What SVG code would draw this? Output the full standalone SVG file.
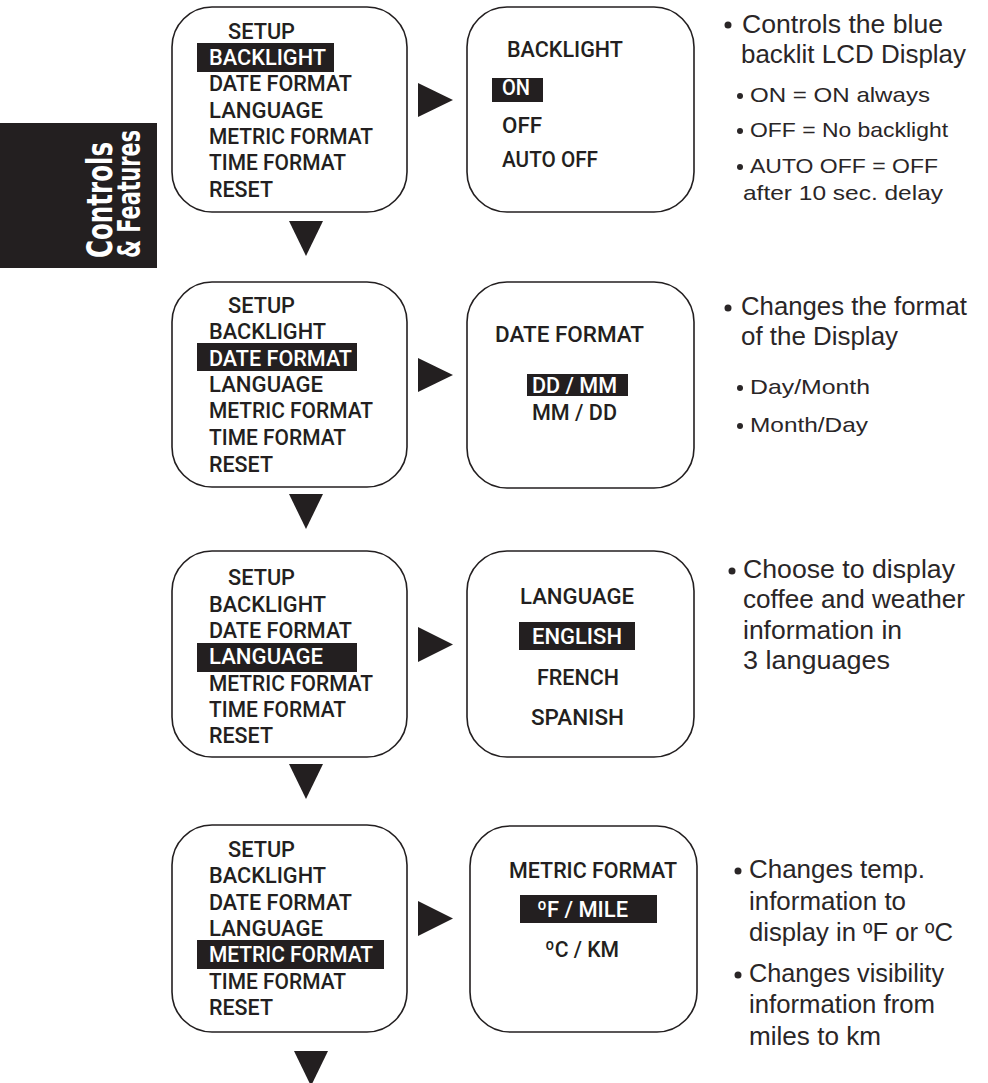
<svg xmlns="http://www.w3.org/2000/svg" width="988" height="1083" viewBox="0 0 988 1083">
<style>
.box{fill:#fff;stroke:#231f20;stroke-width:1.6}
.m{font-family:Roboto,"Liberation Sans",sans-serif;font-weight:500;font-size:22px;fill:#231f20}
.mw{font-family:Roboto,"Liberation Sans",sans-serif;font-weight:500;font-size:22px;fill:#fff}
.hl{fill:#231f20}
.d{font-family:"Liberation Sans",Arial,sans-serif;font-size:25px;fill:#2a2627}
.s{font-family:"Liberation Sans",Arial,sans-serif;font-size:21px;fill:#2a2627}
.dot{fill:#2a2627}
.arr{fill:#231f20}
.tab{font-family:"Liberation Sans Narrow","DejaVu Sans Condensed","Liberation Sans",sans-serif;font-weight:bold;fill:#fff}
</style>
<rect x="0" y="123" width="157" height="145" fill="#231f20"/>
<text class="tab" font-size="36" transform="translate(112,258) rotate(-90)" textLength="116" lengthAdjust="spacingAndGlyphs">Controls</text>
<text class="tab" font-size="32" transform="translate(140,258) rotate(-90)" textLength="128" lengthAdjust="spacingAndGlyphs">&amp; Features</text>

<g id="connectors">
<polygon class="arr" points="418,83 453,100 418,117"/>
<polygon class="arr" points="418,358 453,375 418,392"/>
<polygon class="arr" points="418,627 453,644.5 418,662"/>
<polygon class="arr" points="418,901 453,918.5 418,936"/>
<polygon class="arr" points="289,221 323,221 306,256"/>
<polygon class="arr" points="289,494 323,494 306,529"/>
<polygon class="arr" points="289,764 323,764 306,799"/>
<polygon class="arr" points="294,1051 328,1051 311,1086"/>
</g>

<g id="setup1">
<rect class="box" x="172" y="7" width="235" height="205" rx="40"/>
<rect class="hl" x="197" y="43" width="137" height="29"/>
<text class="m" x="228" y="39" textLength="67" lengthAdjust="spacingAndGlyphs">SETUP</text>
<text class="mw" x="209" y="65" textLength="117" lengthAdjust="spacingAndGlyphs">BACKLIGHT</text>
<text class="m" x="209" y="91" textLength="143" lengthAdjust="spacingAndGlyphs">DATE FORMAT</text>
<text class="m" x="209" y="118" textLength="114" lengthAdjust="spacingAndGlyphs">LANGUAGE</text>
<text class="m" x="209" y="144" textLength="164" lengthAdjust="spacingAndGlyphs">METRIC FORMAT</text>
<text class="m" x="209" y="170" textLength="137" lengthAdjust="spacingAndGlyphs">TIME FORMAT</text>
<text class="m" x="209" y="197" textLength="64" lengthAdjust="spacingAndGlyphs">RESET</text>
</g>

<g id="backlight">
<rect class="box" x="467" y="7" width="227" height="205" rx="40"/>
<text class="m" x="507" y="57" textLength="116" lengthAdjust="spacingAndGlyphs">BACKLIGHT</text>
<rect class="hl" x="492" y="78" width="51" height="24"/>
<text class="mw" x="502" y="95" textLength="28" lengthAdjust="spacingAndGlyphs">ON</text>
<text class="m" x="502" y="133" textLength="40" lengthAdjust="spacingAndGlyphs">OFF</text>
<text class="m" x="502" y="167" textLength="96" lengthAdjust="spacingAndGlyphs">AUTO OFF</text>
</g>

<g id="note1">
<circle class="dot" cx="728" cy="25" r="3.5"/>
<text class="d" x="742" y="33" textLength="201" lengthAdjust="spacingAndGlyphs">Controls the blue</text>
<text class="d" x="741" y="63" textLength="225" lengthAdjust="spacingAndGlyphs">backlit LCD Display</text>
<circle class="dot" cx="740" cy="96" r="3"/>
<text class="s" x="750" y="102" textLength="180" lengthAdjust="spacingAndGlyphs">ON = ON always</text>
<circle class="dot" cx="740" cy="131" r="3"/>
<text class="s" x="750" y="137" textLength="198" lengthAdjust="spacingAndGlyphs">OFF = No backlight</text>
<circle class="dot" cx="740" cy="167" r="3"/>
<text class="s" x="750" y="173" textLength="188" lengthAdjust="spacingAndGlyphs">AUTO OFF = OFF</text>
<text class="s" x="743" y="200" textLength="200" lengthAdjust="spacingAndGlyphs">after 10 sec. delay</text>
</g>

<g id="setup2">
<rect class="box" x="172" y="282" width="235" height="205" rx="40"/>
<rect class="hl" x="197" y="343" width="160" height="28"/>
<text class="m" x="228" y="313" textLength="67" lengthAdjust="spacingAndGlyphs">SETUP</text>
<text class="m" x="209" y="339" textLength="117" lengthAdjust="spacingAndGlyphs">BACKLIGHT</text>
<text class="mw" x="209" y="366" textLength="143" lengthAdjust="spacingAndGlyphs">DATE FORMAT</text>
<text class="m" x="209" y="392" textLength="114" lengthAdjust="spacingAndGlyphs">LANGUAGE</text>
<text class="m" x="209" y="418" textLength="164" lengthAdjust="spacingAndGlyphs">METRIC FORMAT</text>
<text class="m" x="209" y="445" textLength="137" lengthAdjust="spacingAndGlyphs">TIME FORMAT</text>
<text class="m" x="209" y="472" textLength="64" lengthAdjust="spacingAndGlyphs">RESET</text>
</g>

<g id="dateformat">
<rect class="box" x="467" y="282" width="227" height="206" rx="40"/>
<text class="m" x="495" y="342" textLength="149" lengthAdjust="spacingAndGlyphs">DATE FORMAT</text>
<rect class="hl" x="527" y="374" width="101" height="22"/>
<text class="mw" x="532" y="393" textLength="85" lengthAdjust="spacingAndGlyphs">DD / MM</text>
<text class="m" x="532" y="420" textLength="85" lengthAdjust="spacingAndGlyphs">MM / DD</text>
</g>

<g id="note2">
<circle class="dot" cx="728" cy="308" r="3.5"/>
<text class="d" x="741" y="315" textLength="226" lengthAdjust="spacingAndGlyphs">Changes the format</text>
<text class="d" x="741" y="345" textLength="157" lengthAdjust="spacingAndGlyphs">of the Display</text>
<circle class="dot" cx="740" cy="388" r="3"/>
<text class="s" x="750" y="394" textLength="120" lengthAdjust="spacingAndGlyphs">Day/Month</text>
<circle class="dot" cx="740" cy="426" r="3"/>
<text class="s" x="750" y="432" textLength="118" lengthAdjust="spacingAndGlyphs">Month/Day</text>
</g>

<g id="setup3">
<rect class="box" x="172" y="551" width="235" height="206" rx="40"/>
<rect class="hl" x="197" y="643" width="160" height="29"/>
<text class="m" x="228" y="585" textLength="67" lengthAdjust="spacingAndGlyphs">SETUP</text>
<text class="m" x="209" y="612" textLength="117" lengthAdjust="spacingAndGlyphs">BACKLIGHT</text>
<text class="m" x="209" y="638" textLength="143" lengthAdjust="spacingAndGlyphs">DATE FORMAT</text>
<text class="mw" x="209" y="664" textLength="114" lengthAdjust="spacingAndGlyphs">LANGUAGE</text>
<text class="m" x="209" y="691" textLength="164" lengthAdjust="spacingAndGlyphs">METRIC FORMAT</text>
<text class="m" x="209" y="717" textLength="137" lengthAdjust="spacingAndGlyphs">TIME FORMAT</text>
<text class="m" x="209" y="743" textLength="64" lengthAdjust="spacingAndGlyphs">RESET</text>
</g>

<g id="language">
<rect class="box" x="467" y="551" width="227" height="206" rx="40"/>
<text class="m" x="520" y="604" textLength="114" lengthAdjust="spacingAndGlyphs">LANGUAGE</text>
<rect class="hl" x="519" y="622" width="116" height="28"/>
<text class="mw" x="532" y="644" textLength="90" lengthAdjust="spacingAndGlyphs">ENGLISH</text>
<text class="m" x="537" y="685" textLength="82" lengthAdjust="spacingAndGlyphs">FRENCH</text>
<text class="m" x="531" y="725" textLength="93" lengthAdjust="spacingAndGlyphs">SPANISH</text>
</g>

<g id="note3">
<circle class="dot" cx="732" cy="571" r="3.5"/>
<text class="d" x="743" y="578" textLength="212" lengthAdjust="spacingAndGlyphs">Choose to display</text>
<text class="d" x="743" y="608" textLength="222" lengthAdjust="spacingAndGlyphs">coffee and weather</text>
<text class="d" x="743" y="639" textLength="159" lengthAdjust="spacingAndGlyphs">information in</text>
<text class="d" x="743" y="669" textLength="147" lengthAdjust="spacingAndGlyphs">3 languages</text>
</g>

<g id="setup4">
<rect class="box" x="172" y="825" width="235" height="207" rx="40"/>
<rect class="hl" x="197" y="940" width="187" height="29"/>
<text class="m" x="228" y="857" textLength="67" lengthAdjust="spacingAndGlyphs">SETUP</text>
<text class="m" x="209" y="883" textLength="117" lengthAdjust="spacingAndGlyphs">BACKLIGHT</text>
<text class="m" x="209" y="910" textLength="143" lengthAdjust="spacingAndGlyphs">DATE FORMAT</text>
<text class="m" x="209" y="936" textLength="114" lengthAdjust="spacingAndGlyphs">LANGUAGE</text>
<text class="mw" x="209" y="962" textLength="164" lengthAdjust="spacingAndGlyphs">METRIC FORMAT</text>
<text class="m" x="209" y="989" textLength="137" lengthAdjust="spacingAndGlyphs">TIME FORMAT</text>
<text class="m" x="209" y="1015" textLength="64" lengthAdjust="spacingAndGlyphs">RESET</text>
</g>

<g id="metricformat">
<rect class="box" x="470" y="826" width="227" height="206" rx="40"/>
<text class="m" x="509" y="878" textLength="168" lengthAdjust="spacingAndGlyphs">METRIC FORMAT</text>
<rect class="hl" x="520" y="895" width="137" height="28"/>
<text class="mw" x="537" y="917" textLength="91" lengthAdjust="spacingAndGlyphs">ºF / MILE</text>
<text class="m" x="545" y="957" textLength="74" lengthAdjust="spacingAndGlyphs">ºC / KM</text>
</g>

<g id="note4">
<circle class="dot" cx="738" cy="871" r="3.5"/>
<text class="d" x="749" y="878" textLength="176" lengthAdjust="spacingAndGlyphs">Changes temp.</text>
<text class="d" x="749" y="910" textLength="157" lengthAdjust="spacingAndGlyphs">information to</text>
<text class="d" x="749" y="941" textLength="204" lengthAdjust="spacingAndGlyphs">display in ºF or ºC</text>
<circle class="dot" cx="738" cy="975" r="3.5"/>
<text class="d" x="749" y="982" textLength="195" lengthAdjust="spacingAndGlyphs">Changes visibility</text>
<text class="d" x="749" y="1013" textLength="186" lengthAdjust="spacingAndGlyphs">information from</text>
<text class="d" x="749" y="1045" textLength="132" lengthAdjust="spacingAndGlyphs">miles to km</text>
</g>
</svg>
